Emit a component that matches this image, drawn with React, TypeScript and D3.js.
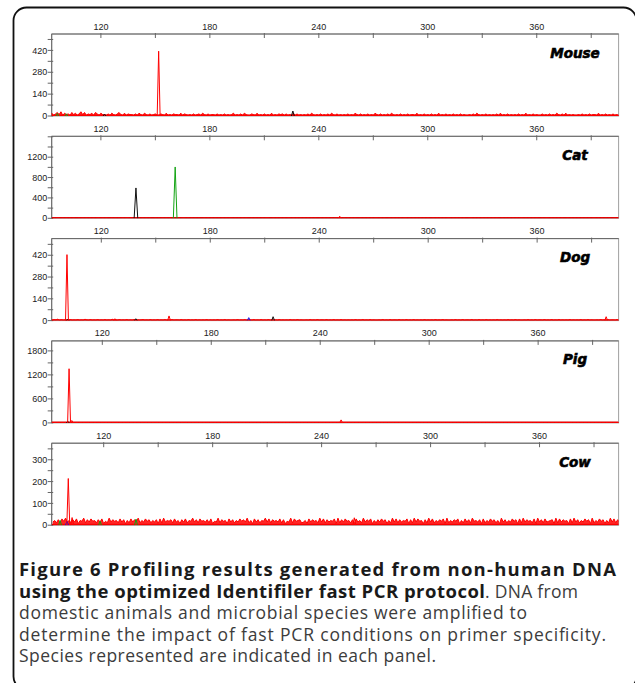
import * as d3 from "d3";

// ---- data ----
const species = ["Mouse", "Cat", "Dog", "Pig", "Cow"];
const yMax = [525, 1610, 527, 2050, 376];
const yLabelTicks = [
  [0, 140, 280, 420],
  [0, 400, 800, 1200],
  [0, 140, 280, 420],
  [0, 600, 1200, 1800],
  [0, 100, 200, 300],
];
const yMinorTicks = [
  [70, 210, 350, 490],
  [200, 600, 1000, 1400, 1600],
  [70, 210, 350, 490],
  [300, 900, 1500],
  [50, 150, 250, 350],
];
const xLabelTicks = [120, 180, 240, 300, 360];
const xMinorTicks = [150, 210, 270, 330, 390];

// baseline noise, one digit per bp starting at noiseStart, scaled by noiseUnit
const noiseStart = 92;
const noiseUnit = [4.5, 6, 2.2, 10, 3.6];
const mouseNoise =
  "2413526142 3152413625 1324153142 2131421352 1413221314 2142131231 1321412132 2141321213 1231421312 2131213121 2412131421 1321412131 2141213231 3121413121 2131421213 1213142131 2121312142 1312131214 2131213142 1213121312 2141213121 3121412131 2131213121 1213142121 3121213141 2131212131 2141213121 1312131214 2131412121 1213121312 2141213121 3121213141";
const catNoise =
  "1010110101 0101001010 1010101101 0100101010 1011010101 0101010010 1010101010 0101101010 1010010101 0101010101 1010101010 0101010101 1001010101 0110101010 1010101001 0101010110 1010101010 0101010101 1010100101 0101011010 1010101010 0101010101 1010101010 0110101010 1010101001 0101010101 1010101010 0101101010 1010010101 0101010101 1010101010 0101010101";
const dogNoise =
  "2132413121 2312131214 2131213121 3121412131 2131213121 2312131213 1213121312 2131213121 3121213121 2131213121 1213121312 2131213121 3121213121 2131213121 1213121312 2131213121 3121212131 2131213121 1213121312 2131213121 3121213121 2131213121 1213121312 2131213121 3121213121 2131213121 1213121312 2131213121 3121213121 2131213121 1213121312 2131213122";
const pigNoise =
  "1010101010 1010101010 1010101010 1010101010 1010101010 1010101010 1010101010 1010101010 1010101010 1010101010 1010101010 1010101010 1010101010 1010101010 1010101010 1010101010 1010101010 1010101010 1010101010 1010101010 1010101010 1010101010 1010101010 1010101010 1010101010 1010101010 1010101010 1010101010 1010101010 1010101010 1010101010 1010101010";
const cowNoise =
  "4637285946 3748265937 4856374825 3947563847 2638475936 4857364728 3946573846 2748365947 3856473825 4937562847 3648574936 2847365948 3756483725 4938567346 2847563948 3746582937 4856372846 3947582637 4857263948 3746582739 4856273948 3647582936 4758263847 3956472836 4857362947 3648572839 4756382947 3845672938 4756283947 3648572936 4857263948 3746582937";
const noiseStrings = [mouseNoise, catNoise, dogNoise, pigNoise, cowNoise];

type Peak = { bp: number; h: number; color: string };
const mousePeaks: Peak[] = [
  { bp: 96, h: 16, color: "green" },
  { bp: 101, h: 14, color: "green" },
  { bp: 122, h: 12, color: "black" },
  { bp: 151.8, h: 415, color: "red" },
  { bp: 225.7, h: 32, color: "black" },
];
const catPeaks: Peak[] = [
  { bp: 139.3, h: 596, color: "black" },
  { bp: 160.9, h: 1008, color: "green" },
  { bp: 251.5, h: 40, color: "red" },
];
const dogPeaks: Peak[] = [
  { bp: 101.5, h: 10, color: "black" },
  { bp: 101.1, h: 424, color: "red" },
  { bp: 127.5, h: 12, color: "red" },
  { bp: 139, h: 12, color: "black" },
  { bp: 157.3, h: 30, color: "red" },
  { bp: 201.2, h: 19, color: "blue" },
  { bp: 214.6, h: 25, color: "black" },
  { bp: 398, h: 25, color: "red" },
];
const pigPeaks: Peak[] = [
  { bp: 101, h: 40, color: "black" },
  { bp: 101.7, h: 1354, color: "red" },
  { bp: 103.2, h: 60, color: "red" },
  { bp: 251.5, h: 75, color: "red" },
];
const cowPeaks: Peak[] = [
  { bp: 96, h: 22, color: "green" },
  { bp: 99.8, h: 18, color: "blue" },
  { bp: 100.5, h: 214, color: "red" },
  { bp: 102.6, h: 35, color: "red" },
  { bp: 118, h: 18, color: "green" },
  { bp: 137.8, h: 28, color: "green" },
  { bp: 258, h: 34, color: "red" },
];
const peaksByPanel = [mousePeaks, catPeaks, dogPeaks, pigPeaks, cowPeaks];

const captionBold1 = "Figure 6 Profiling results generated from non-human DNA";
const captionBold2 = "using the optimized Identifiler fast PCR protocol";
const captionRest2 = ". DNA from";
const captionLines = [
  "domestic animals and microbial species were amplified to",
  "determine the impact of fast PCR conditions on primer specificity.",
  "Species represented are indicated in each panel.",
];

const colorMap: Record<string, string> = {
  red: "#ff0000",
  green: "#12a312",
  black: "#111111",
  blue: "#1010ee",
};

// ---- layout ----
const W = 635;
const H = 683;
const plotLeft = 51.7;
const plotRight = 618.6;
const panelTop0 = 34;
const panelStep = 102.3;
const panelH = 82;
const pxPerBp = 1.816;
const x120 = [100.9, 100.9, 101.3, 102.3, 103.7];
// caption line widths measured on the figure
const capWidths = [597, 466, 93, 508, 587, 417];

function Panel({ i }: { i: number }) {
  const top = panelTop0 + i * panelStep;
  const bottom = top + panelH;
  const x = d3
    .scaleLinear()
    .domain([120, 360])
    .range([x120[i], x120[i] + 240 * pxPerBp]);
  const y = d3.scaleLinear().domain([0, yMax[i]]).range([bottom, top]);

  const digits = noiseStrings[i].replace(/\s/g, "");
  const noisePts: [number, number][] = Array.from(digits).map((c, k) => [
    noiseStart + k,
    +c * noiseUnit[i],
  ]);
  const line = d3
    .line<[number, number]>()
    .x((d) => x(d[0]))
    .y((d) => y(d[1]));
  const area = d3
    .area<[number, number]>()
    .x((d) => x(d[0]))
    .y0(bottom)
    .y1((d) => y(d[1]));

  const peakW = i === 1 ? 1.0 : 0.8;
  const clipId = `clip-${i}`;
  const axisColor = "#666";
  const boxColor = "#a0a0a0";
  const tickFont = { fontFamily: "Liberation Sans, Arial, sans-serif", fontSize: 9, fill: "#222" };

  return (
    <g>
      <defs>
        <clipPath id={clipId}>
          <rect x={plotLeft} y={top - 1} width={plotRight - plotLeft} height={panelH + 1} />
        </clipPath>
      </defs>
      {/* box */}
      <rect
        x={plotLeft}
        y={top}
        width={plotRight - plotLeft}
        height={panelH}
        fill="#fff"
        stroke={boxColor}
        strokeWidth={1}
      />
      <line x1={plotLeft} x2={plotRight} y1={top} y2={top} stroke={axisColor} strokeWidth={1} />
      <line x1={plotLeft} x2={plotLeft} y1={top} y2={bottom} stroke={axisColor} strokeWidth={1} />

      {/* x ticks at top */}
      {xLabelTicks.map((t) => (
        <g key={`xl${t}`}>
          <line x1={x(t)} x2={x(t)} y1={top - 1} y2={top + 4} stroke={axisColor} />
          <text x={x(t)} y={top - 4.5} textAnchor="middle" {...tickFont}>
            {t}
          </text>
        </g>
      ))}
      {xMinorTicks.map((t) => (
        <line key={`xm${t}`} x1={x(t)} x2={x(t)} y1={top - 1} y2={top + 4} stroke={axisColor} />
      ))}

      {/* y ticks */}
      {yLabelTicks[i].map((t) => (
        <g key={`yl${t}`}>
          <line x1={plotLeft - 4} x2={plotLeft + 1.5} y1={y(t)} y2={y(t)} stroke={axisColor} />
          <text x={plotLeft - 4.5} y={y(t)} dy="0.35em" textAnchor="end" {...tickFont}>
            {t}
          </text>
        </g>
      ))}
      {yMinorTicks[i].map((t) => (
        <line key={`ym${t}`} x1={plotLeft - 4} x2={plotLeft + 1.5} y1={y(t)} y2={y(t)} stroke={axisColor} />
      ))}

      <g clipPath={`url(#${clipId})`}>
        <line x1={plotLeft} x2={plotRight} y1={bottom - 0.5} y2={bottom - 0.5} stroke="#d80000" strokeWidth={1.8} />
        <path d={area(noisePts) ?? ""} fill="#ff0000" fillOpacity={0.85} stroke="none" />
        <path d={line(noisePts) ?? ""} fill="none" stroke="#ff0000" strokeWidth={1} />
        {peaksByPanel[i].map((p, k) => (
          <path
            key={k}
            d={
              line([
                [p.bp - peakW, 0],
                [p.bp, p.h],
                [p.bp + peakW, 0],
              ]) ?? ""
            }
            fill="none"
            stroke={colorMap[p.color]}
            strokeWidth={1}
          />
        ))}
      </g>

      <text
        x={575}
        y={top + 23.5}
        textAnchor="middle"
        fontFamily="DejaVu Sans, sans-serif"
        fontWeight="bold"
        fontStyle="italic"
        fontSize={13.5}
        fill="#000"
        stroke="#000"
        strokeWidth={0.6}
      >
        {species[i]}
      </text>
    </g>
  );
}

export default function App() {
  const capFont = "'Open Sans', 'Noto Sans', sans-serif";
  const capX = 19;
  const capY0 = 576;
  const capStep = 21.5;
  return (
    <svg
      width={W}
      height={H}
      style={{ position: "absolute", left: 0, top: 0, background: "#fff" }}
    >
      <rect x={0} y={0} width={W} height={H} fill="#fff" />
      <rect
        x={13.5}
        y={7.5}
        width={623}
        height={682}
        rx={13}
        fill="none"
        stroke="#111"
        strokeWidth={1.8}
      />
      {species.map((_, i) => (
        <Panel key={i} i={i} />
      ))}
      <g fontFamily={capFont} fontSize={17.5}>
        <text
          x={capX}
          y={capY0}
          fontWeight="bold"
          fontSize={18.5}
          fill="#1a1a1a"
          textLength={capWidths[0]}
          lengthAdjust="spacing"
        >
          {captionBold1}
        </text>
        <text
          x={capX}
          y={capY0 + capStep}
          fontWeight="bold"
          fontSize={18.5}
          fill="#1a1a1a"
          textLength={capWidths[1]}
          lengthAdjust="spacing"
        >
          {captionBold2}
        </text>
        <text
          x={capX + capWidths[1]}
          y={capY0 + capStep}
          fill="#3c3c3c"
          textLength={capWidths[2]}
          lengthAdjust="spacing"
        >
          {captionRest2}
        </text>
        {captionLines.map((l, k) => (
          <text
            key={k}
            x={capX}
            y={capY0 + capStep * (k + 2)}
            fill="#3c3c3c"
            textLength={capWidths[k + 3]}
            lengthAdjust="spacing"
          >
            {l}
          </text>
        ))}
      </g>
    </svg>
  );
}
